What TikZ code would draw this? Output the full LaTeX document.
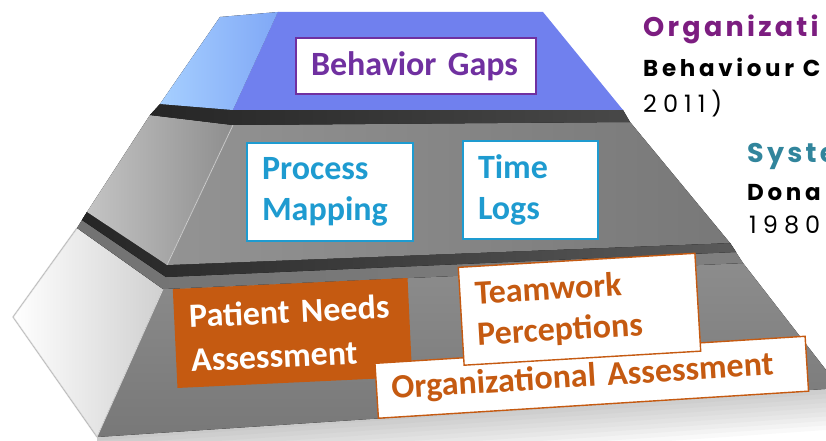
\documentclass[tikz,border=0pt]{standalone}
\usepackage{fontspec}
\setmainfont{Carlito}
\newfontfamily\gothic{Poppins}
\begin{document}
\definecolor{tierblue}{HTML}{7080EE}
\definecolor{sideblueA}{HTML}{A6CFFF}
\definecolor{sideblueB}{HTML}{80A8F6}
\definecolor{tiergray}{HTML}{787878}
\definecolor{sidegrayA}{HTML}{C4C4C4}
\definecolor{sidegrayB}{HTML}{8E8E8E}
\definecolor{bandA}{HTML}{262626}
\definecolor{bandB}{HTML}{5A5A5A}
\definecolor{rust}{HTML}{C55A11}
\definecolor{skyblue}{HTML}{1E9BD0}
\definecolor{grape}{HTML}{7030A0}
\definecolor{plum}{HTML}{7C1D80}
\definecolor{teal}{HTML}{31859C}
\begin{tikzpicture}[x=1pt,y=-1pt,
  boxfont/.style={font=\fontsize{34}{41}\selectfont\bfseries},
  labelbox/.style={boxfont, align=left, inner xsep=15pt, inner ysep=0pt, line width=1.4pt, fill=white},
  bluebox/.style={labelbox, draw=skyblue, text=skyblue},
  rustbox/.style={labelbox, draw=rust, text=rust},
  rustfill/.style={labelbox, fill=rust, text=white, draw=none},
  purplebox/.style={labelbox, draw=grape, text=grape},
  headline/.style={anchor=base west, inner sep=0pt, font=\gothic\bfseries\fontsize{27}{27}\selectfont\addfontfeature{LetterSpace=12}},
  subline/.style={anchor=base west, inner sep=0pt, font=\gothic\bfseries\fontsize{23}{23}\selectfont\addfontfeature{LetterSpace=16}, text=black},
  yearline/.style={anchor=base west, inner sep=0pt, font=\gothic\fontsize{24}{24}\selectfont\addfontfeature{LetterSpace=25}, text=black}]
\useasboundingbox (0,0) rectangle (826,441);
\begin{scope}
\clip (0,0) rectangle (826,441);

% soft reflection under the base
\foreach \i in {1,...,10}
  \fill[black, opacity=0.022] (97,436) -- (840,384) -- (840,384+\i*4.5) -- (97,436+\i*4.5) -- cycle;

% ---- bottom tier ----
\fill[left color=white, right color=sidegrayA!80] (77,228) -- (163,289) -- (97,437) -- (13,317) -- cycle;
\draw[black!25, line width=1.5pt, opacity=0.6] (77,228) -- (13,317) -- (97,437);
\fill[top color=tiergray!85, bottom color=tiergray] (163,289) -- (743,263) -- (840,388) -- (97,437) -- cycle;
\draw[white!70!gray, line width=0.8pt] (163,289) -- (97,437);
% top surface of the bottom tier: medium grey, darkest right under the middle tier
\fill[left color=black!55, right color=black!50] (77,228) -- (163,289) -- (743,263) -- (730,243) -- (167,265) -- (87,212) -- cycle;
\fill[left color=bandA, right color=bandB] (87,212) -- (167,265) -- (730,243) -- (736,252) -- (166,277) -- (82,220) -- cycle;

% ---- middle tier ----
\fill[left color=sidegrayA, right color=sidegrayB] (150,115) -- (233,125) -- (167,265) -- (87,212) -- cycle;
\fill[left color=tiergray!80, right color=tiergray] (233,125) -- (630,122) -- (730,243) -- (167,265) -- cycle;
\draw[white!60!gray, line width=0.8pt] (233,125) -- (167,265);
% top surface of the middle tier, in the shadow of the top tier
\fill[left color=bandA, right color=bandB!80!black] (160,104) -- (233,110) -- (623,110) -- (630,122) -- (233,125) -- (150,115) -- cycle;

% ---- top tier ----
\fill[left color=sideblueA, right color=sideblueB] (220,17) -- (278,12) -- (233,110) -- (160,104) -- cycle;
\fill[tierblue] (278,12) -- (543,12) -- (623,110) -- (233,110) -- cycle;

% ---- labels on the tiers ----
\node[purplebox, minimum width=240pt, minimum height=56pt, text width=210pt] (gaps) at (416,66) {Behavior Gaps};
\node[bluebox, minimum width=166pt, minimum height=98pt, text width=136pt] (process) at (330,192) {Process\\Mapping};
\node[bluebox, minimum width=135pt, minimum height=98pt, text width=105pt] (timelogs) at (530.5,190) {Time\\Logs};
\node[rustfill, rotate=2.7, minimum width=235pt, minimum height=99pt, text width=205pt, font=\fontsize{34}{44}\selectfont\bfseries] (patient) at (292.5,333) {Patient Needs\\Assessment};
\node[rustbox, rotate=3.6, minimum width=431pt, minimum height=55pt, text width=401pt] (orgassess) at (591.75,377.25) {Organizational Assessment};
\node[rustbox, rotate=3.4, minimum width=237pt, minimum height=98pt, text width=207pt] (teamwork) at (579.5,309.25) {Teamwork\\Perceptions};

% ---- side captions ----
\node[headline, text=plum] (orgtitle) at (643,37) {Organizati};
\node[subline] (orgsrc) at (643,77) {Behaviour C};
\node[yearline] (orgyear) at (643,113) {2011)};
\node[headline, text=teal] (systitle) at (747,162) {Syste};
\node[subline] (syssrc) at (747,200) {Dona};
\node[yearline] (sysyear) at (749,233) {1980};
\end{scope}
\end{tikzpicture}
\end{document}
